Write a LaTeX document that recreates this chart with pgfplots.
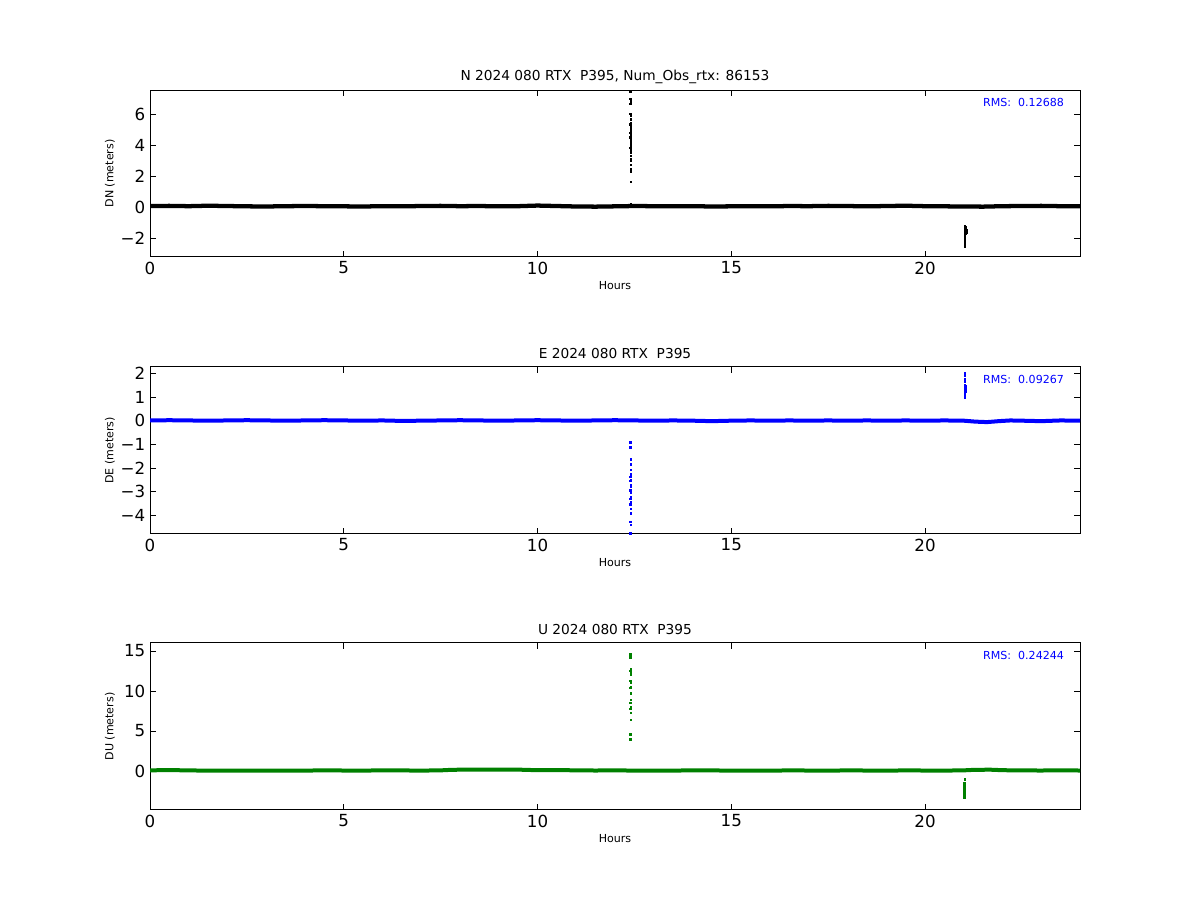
\documentclass[border=0pt]{standalone}
\usepackage{fontspec}
\setmainfont{DejaVu Sans}
\usepackage{pgfplots}
\pgfplotsset{compat=1.18}
\definecolor{mplgreen}{RGB}{0,128,0}
\tikzset{rms/.style={anchor=east, inner sep=0pt, text=blue, font=\fontsize{8.3}{10}\selectfont}}
\pgfplotsset{
  myax/.style={
    scale only axis, width=697.5pt, height=125.25pt,
    anchor=south west,
    xmin=0, xmax=24, xtick={0,5,10,15,20},
    xticklabels={0,5,10,15,20},
    axis line style={line width=0.75pt},
    tick style={black, line width=0.6pt},
    major tick length=4.2pt,
    minor tick num=0,
    tick align=inside,
    ticklabel style={font=\fontsize{12.5}{14}\selectfont},
    /pgf/number format/assume math mode=true,
    xlabel={Hours},
    xlabel style={font=\fontsize{8.3}{10}\selectfont, at={(axis description cs:0.5,0)}, anchor=center, yshift=-21.5pt},
    ylabel style={font=\fontsize{8.3}{10}\selectfont, at={(axis description cs:-0.043,0.5)}, anchor=center},
    every axis title shift=0pt,
    title style={font=\fontsize{10.3}{12}\selectfont, at={(axis description cs:0.5,1)}, anchor=center, yshift=10pt},
    clip=true,
  },
  base/.style={no marks, line width=3pt},
  spk/.style={only marks, mark=square*, mark size=0.55pt},
}
\begin{document}
\begin{tikzpicture}[x=1pt,y=1pt]
\path[use as bounding box] (0,0) rectangle (900,675);
% ---------------- N ----------------
\begin{axis}[myax, at={(112.5pt,482.25pt)},
  ymin=-3.23, ymax=7.55, ytick={-2,0,2,4,6}, yticklabels={−2,0,2,4,6},
  ylabel={DN (meters)},
  title={N 2024 080 RTX\ \ P395, Num\_Obs\_rtx: 86153}]
\addplot[base, black, line width=3.2pt] coordinates {
(0,0.06)(0.5,0.07)(1,0.05)(1.5,0.08)(2,0.06)(2.5,0.04)(3,0.03)(3.5,0.05)(4,0.06)(4.5,0.05)
(5,0.04)(5.5,0.03)(6,0.05)(6.5,0.04)(7,0.06)(7.5,0.07)(8,0.05)(8.5,0.06)(9,0.04)(9.5,0.05)
(10,0.09)(10.5,0.06)(11,0.03)(11.5,0.02)(12,0.04)(12.5,0.06)(13,0.05)(13.5,0.04)(14,0.05)(14.5,0.03)
(15,0.04)(15.5,0.05)(16,0.04)(16.5,0.06)(17,0.05)(17.5,0.07)(18,0.06)(18.5,0.04)(19,0.06)(19.5,0.08)
(20,0.05)(20.5,0.04)(21,0.03)(21.5,0.02)(22,0.05)(22.5,0.06)(23,0.07)(23.5,0.05)(24,0.04)};
\addplot[spk, black] coordinates {
(12.39,7.48)(12.39,6.97)(12.40,6.82)(12.39,6.65)(12.39,6.00)(12.40,5.87)(12.41,5.66)(12.40,5.44)
(12.39,5.33)(12.40,5.18)(12.41,5.08)(12.40,4.92)(12.39,4.79)(12.40,4.69)(12.39,4.50)(12.40,4.32)
(12.41,4.15)(12.40,3.98)(12.39,3.82)(12.40,3.74)(12.41,3.61)(12.40,3.50)(12.41,3.29)(12.41,3.10)
(12.41,2.97)(12.41,2.71)(12.41,2.43)(12.41,2.30)(12.41,1.63)(12.40,0.20)};
\addplot[spk, black] coordinates {
(21.03,-1.25)(21.05,-1.28)(21.03,-1.35)(21.05,-1.38)(21.04,-1.45)(21.06,-1.48)(21.03,-1.52)(21.05,-1.55)
(21.04,-1.60)(21.06,-1.62)(21.03,-1.66)(21.05,-1.70)(21.02,-1.80)(21.02,-1.90)(21.02,-2.00)(21.02,-2.10)
(21.02,-2.20)(21.02,-2.30)(21.02,-2.40)(21.02,-2.50)(21.02,-2.58)};
\node[rms] at (rel axis cs:0.983,0.928) {RMS:\ \ 0.12688};
\end{axis}
% ---------------- E ----------------
\begin{axis}[myax, at={(112.5pt,274.5pt)},
  ymin=-4.79, ymax=2.27, ytick={-4,-3,-2,-1,0,1,2}, yticklabels={−4,−3,−2,−1,0,1,2},
  ylabel={DE (meters)},
  title={E 2024 080 RTX\ \ P395}]
\addplot[base, blue] coordinates {
(0,0.01)(0.5,0.02)(1,0.01)(1.5,0.0)(2,0.01)(2.5,0.02)(3,0.01)(3.5,0.0)(4,0.01)(4.5,0.02)
(5,0.01)(5.5,0.0)(6,0.01)(6.5,-0.01)(7,0.0)(7.5,0.01)(8,0.02)(8.5,0.01)(9,0.0)(9.5,0.01)
(10,0.02)(10.5,0.01)(11,0.0)(11.5,0.01)(12,0.02)(12.5,0.01)(13,0.0)(13.5,0.01)(14,0.0)(14.5,-0.02)
(15,0.0)(15.5,0.01)(16,0.0)(16.5,0.01)(17,0.0)(17.5,0.01)(18,0.0)(18.5,0.01)(19,0.0)(19.5,0.01)
(20,0.0)(20.5,0.01)(21,0.0)(21.3,-0.04)(21.6,-0.06)(21.9,-0.02)(22.2,0.01)(22.5,0.0)(23,-0.02)(23.5,0.01)(24,0.0)};
\addplot[spk, blue] coordinates {
(12.39,-0.91)(12.39,-1.13)(12.40,-1.64)(12.40,-1.85)(12.40,-2.07)(12.40,-2.27)(12.39,-2.38)(12.40,-2.49)
(12.39,-2.55)(12.40,-2.72)(12.40,-2.80)(12.39,-2.94)(12.40,-3.05)(12.40,-3.24)(12.39,-3.29)(12.40,-3.43)
(12.39,-3.53)(12.40,-3.73)(12.40,-3.91)(12.39,-4.27)(12.40,-4.40)(12.39,-4.76)};
\addplot[spk, blue] coordinates {
(21.02,2.00)(21.02,1.89)(21.02,1.76)(21.02,1.64)(21.02,1.51)(21.02,1.42)(21.02,1.35)(21.02,1.28)
(21.02,1.20)(21.02,1.12)(21.02,1.05)(21.02,0.98)(21.04,1.45)(21.05,1.38)(21.04,1.30)(21.05,1.22)};
\node[rms] at (rel axis cs:0.983,0.928) {RMS:\ \ 0.09267};
\end{axis}
% ---------------- U ----------------
\begin{axis}[myax, at={(112.5pt,67.5pt)},
  ymin=-4.875, ymax=16, ytick={0,5,10,15}, yticklabels={0,5,10,15},
  ylabel={DU (meters)},
  title={U 2024 080 RTX\ \ P395}]
\addplot[base, mplgreen] coordinates {
(0,0.08)(0.5,0.12)(1,0.07)(1.5,0.05)(2,0.06)(2.5,0.04)(3,0.05)(3.5,0.06)(4,0.05)(4.5,0.08)
(5,0.06)(5.5,0.05)(6,0.08)(6.5,0.07)(7,0.05)(7.5,0.08)(7.8,0.15)(8,0.16)(8.5,0.17)(9,0.16)(9.5,0.17)
(10,0.1)(10.5,0.12)(11,0.08)(11.5,0.06)(12,0.08)(12.5,0.05)(13,0.06)(13.5,0.05)(14,0.08)(14.5,0.07)
(15,0.05)(15.5,0.06)(16,0.05)(16.5,0.07)(17,0.06)(17.5,0.05)(18,0.07)(18.5,0.06)(19,0.05)(19.5,0.07)
(20,0.06)(20.5,0.05)(21,0.08)(21.3,0.15)(21.7,0.16)(22,0.1)(22.5,0.07)(23,0.06)(23.5,0.08)(24,0.06)};
\addplot[spk, mplgreen] coordinates {
(12.39,14.6)(12.39,14.2)(12.40,12.8)(12.39,12.5)(12.40,12.2)(12.40,12.0)(12.39,11.3)(12.40,11.04)
(12.40,10.5)(12.39,10.4)(12.40,9.7)(12.40,8.9)(12.39,8.5)(12.40,8.04)(12.39,7.8)(12.40,7.3)
(12.41,6.4)(12.39,4.6)(12.39,3.96)};
\addplot[spk, mplgreen] coordinates {
(21.02,-1.04)(21.01,-1.55)(21.02,-1.7)(21.01,-1.85)(21.02,-2.0)(21.01,-2.15)(21.02,-2.3)(21.01,-2.45)
(21.01,-2.6)(21.01,-2.75)(21.01,-2.9)(21.01,-3.05)(21.01,-3.2)(21.01,-3.35)(21.03,-1.6)(21.03,-1.8)};
\node[rms] at (rel axis cs:0.983,0.928) {RMS:\ \ 0.24244};
\end{axis}
\end{tikzpicture}
\end{document}
